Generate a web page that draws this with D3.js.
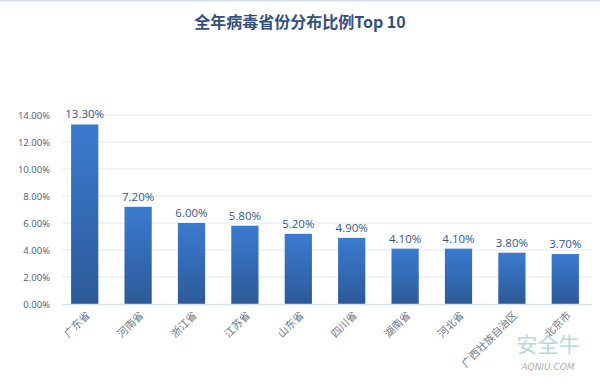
<!DOCTYPE html>
<html><head><meta charset="utf-8">
<script src="https://cdn.jsdelivr.net/npm/d3@7"></script>
<style>body{margin:0;background:#fff}svg{display:block}</style>
</head><body>
<svg id="c" width="600" height="384"></svg>
<script>
const categories = ["广东省","河南省","浙江省","江苏省","山东省","四川省","湖南省","河北省","广西壮族自治区","北京市"];
const values = [13.3, 7.2, 6.0, 5.8, 5.2, 4.9, 4.1, 4.1, 3.8, 3.7];
const yTicks = [0, 2, 4, 6, 8, 10, 12, 14];
const title = "全年病毒省份分布比例Top 10";

const svg = d3.select("#c");
const W = 600, H = 384;
const x = d3.scaleBand().domain(categories).range([58, 592]).paddingInner(0.49).paddingOuter(0.245);
const y = d3.scaleLinear().domain([0, 14]).range([304, 115]);

const defs = svg.append("defs");
const g = defs.append("linearGradient").attr("id","bg").attr("x1",0).attr("y1",0).attr("x2",0).attr("y2",1);
g.append("stop").attr("offset","0%").attr("stop-color","#3b7bd0");
g.append("stop").attr("offset","100%").attr("stop-color","#2c5a98");

svg.append("line").attr("x1",0).attr("x2",W).attr("y1",0.5).attr("y2",0.5).attr("stroke","#d5e0ea").attr("stroke-width",2);

svg.append("text").attr("x",300).attr("y",28).attr("text-anchor","middle")
  .attr("font-family","'Noto Sans CJK SC', sans-serif").attr("font-weight","bold").attr("font-size",16)
  .attr("fill","#34507a").text(title);

// gridlines
svg.append("g").selectAll("line").data(yTicks.filter(d=>d>0)).join("line")
  .attr("x1",62).attr("x2",592).attr("y1",d=>y(d)).attr("y2",d=>y(d))
  .attr("stroke","#e1e7ef").attr("stroke-width",1);

// y axis
const ya = svg.append("g").attr("transform","translate(62,0)")
  .call(d3.axisLeft(y).tickValues(yTicks).tickFormat(d=>d.toFixed(2)+"%").tickSize(0).tickPadding(12));
ya.select(".domain").remove();
ya.selectAll("text").attr("font-family","'Open Sans', 'Noto Sans', sans-serif").attr("font-size",9.5).attr("fill","#4a5a72");

// bars
svg.append("g").selectAll("rect").data(values).join("rect")
  .attr("x",(d,i)=>x(categories[i])).attr("width",x.bandwidth())
  .attr("y",d=>y(d)).attr("height",d=>y(0)-y(d)).attr("fill","url(#bg)");

// baseline
svg.append("line").attr("x1",62).attr("x2",592).attr("y1",y(0)+0.5).attr("y2",y(0)+0.5).attr("stroke","#d9e1ea").attr("stroke-width",1.5);

// value labels
svg.append("g").selectAll("text").data(values).join("text")
  .attr("x",(d,i)=>x(categories[i])+x.bandwidth()/2).attr("y",d=>y(d)-6)
  .attr("text-anchor","middle").attr("font-family","'Open Sans', 'Noto Sans', sans-serif").attr("font-size",11.5)
  .attr("fill","#34568a").text(d=>d.toFixed(2)+"%");

// category labels
const xa = svg.append("g").attr("transform",`translate(0,${y(0)})`)
  .call(d3.axisBottom(x).tickSize(0).tickPadding(0));
xa.select(".domain").remove();
xa.selectAll("text")
  .attr("font-family","'Noto Sans CJK SC', sans-serif").attr("font-size",10.5).attr("fill","#6f7888")
  .attr("text-anchor","end").attr("dy",0).attr("y",0)
  .attr("transform","translate(6,12) rotate(-45)");

// watermark
svg.append("text").attr("x",548).attr("y",352).attr("text-anchor","middle")
  .attr("font-family","'Noto Sans CJK SC', sans-serif").attr("font-size",21).attr("fill","#a8cfcf").attr("opacity",0.8).text("安全牛");
svg.append("text").attr("x",548).attr("y",370).attr("text-anchor","middle")
  .attr("font-family","'DejaVu Sans', sans-serif").attr("font-style","italic").attr("font-size",9).attr("fill","#b0b0b0").text("AQNIU.COM");
</script>
</body></html>
